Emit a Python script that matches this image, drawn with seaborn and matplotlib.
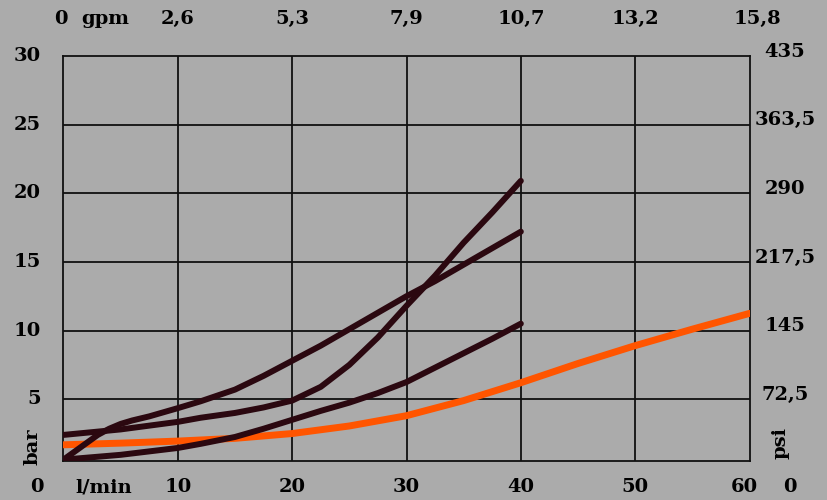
import matplotlib
matplotlib.use("Agg")
import matplotlib.pyplot as plt
import seaborn as sns
import pandas as pd
from matplotlib.transforms import blended_transform_factory as btf

# ---- data ----
flow_a = [0, 2, 3, 4, 5, 6, 7.5, 10, 12, 15, 17.5, 20, 22.5, 25, 27.5, 30, 32.5, 35, 37.5, 40]
pres_a = [0.6, 1.8, 2.4, 2.85, 3.2, 3.45, 3.75, 4.35, 4.85, 5.7, 6.7, 7.8, 8.9, 10.1, 11.3, 12.5, 13.6, 14.8, 16.0, 17.2]

flow_b = [0, 5, 10, 12, 15, 17.5, 20, 22.5, 25, 27.5, 30, 32.5, 35, 37.5, 40]
pres_b = [2.4, 2.8, 3.35, 3.65, 4.0, 4.4, 4.9, 5.9, 7.5, 9.5, 11.8, 14.0, 16.4, 18.6, 20.9]

flow_c = [0, 5, 10, 12, 15, 17.5, 20, 22.5, 25, 27.5, 30, 32.5, 35, 37.5, 40]
pres_c = [0.6, 0.95, 1.45, 1.75, 2.25, 2.85, 3.5, 4.15, 4.75, 5.45, 6.25, 7.3, 8.35, 9.4, 10.5]

flow_d = [0, 5, 10, 15, 20, 25, 30, 35, 40, 45, 50, 55, 60]
pres_d = [1.68, 1.8, 1.95, 2.15, 2.5, 3.05, 3.8, 4.9, 6.2, 7.6, 8.9, 10.1, 11.25]

x_ticks = [10, 20, 30, 40, 50, 60]
x_labels = ["10", "20", "30", "40", "50", "60"]
gpm_pos = [0, 10, 20, 30, 40, 50, 60]
gpm_labels = ["0", "2,6", "5,3", "7,9", "10,7", "13,2", "15,8"]
y_ticks = [5, 10, 15, 20, 25, 30]
y_labels = ["5", "10", "15", "20", "25", "30"]
psi_labels = ["72,5", "145", "217,5", "290", "363,5", "435"]

BG = "#ababab"
DARK = "#2b0810"
ORANGE = "#ff5500"
W, H = 827, 500

sns.set_style("white")
font = dict(family="DejaVu Serif", weight="bold", size=14, color="black")

fig = plt.figure(figsize=(W / 100, H / 100), dpi=100)
fig.patch.set_facecolor(BG)
left, right, top, bottom = 63.5, 749.5, 55.9, 461
ax = fig.add_axes([left / W, 1 - bottom / H, (right - left) / W, (bottom - top) / H])
ax.set_facecolor(BG)

df_d = pd.DataFrame({"flow": flow_d, "p": pres_d})
df_a = pd.DataFrame({"flow": flow_a, "p": pres_a})
df_b = pd.DataFrame({"flow": flow_b, "p": pres_b})
df_c = pd.DataFrame({"flow": flow_c, "p": pres_c})

sns.lineplot(data=df_d, x="flow", y="p", ax=ax, color=ORANGE, lw=5, sort=False,
             zorder=3, solid_joinstyle="round")
for d in (df_a, df_b, df_c):
    sns.lineplot(data=d, x="flow", y="p", ax=ax, color=DARK, lw=4.3, sort=False,
                 zorder=4, solid_joinstyle="round")

ax.set_xlim(0, 60)
ax.set_ylim(0.5, 30)
ax.set_xticks(x_ticks[:-1])
ax.set_yticks(y_ticks[:-1])
ax.grid(True, color="#111111", lw=1.3)
ax.tick_params(length=0, labelleft=False, labelbottom=False)
ax.set_xlabel("")
ax.set_ylabel("")
for s in ax.spines.values():
    s.set_color("#111111")
    s.set_linewidth(1.3)
    s.set_visible(True)

tr_y = btf(fig.transFigure, ax.transData)
tr_x = btf(ax.transData, fig.transFigure)

for v, lab in zip(y_ticks, y_labels):
    fig.text(41 / W, v, lab, transform=tr_y, ha="right", va="center", **font)
for v, lab in zip(y_ticks, psi_labels):
    fig.text(785 / W, v + 0.3, lab, transform=tr_y, ha="center", va="center", **font)
for v, lab in zip(x_ticks, x_labels):
    off = -0.45 if v == 60 else 0
    fig.text(v + off, 1 - 487 / H, lab, transform=tr_x, ha="center", va="center", **font)
for v, lab in zip(gpm_pos, gpm_labels):
    off = {0: -0.2, 60: 0.7}.get(v, 0)
    fig.text(v + off, 1 - 19 / H, lab, transform=tr_x, ha="center", va="center", **font)

fig.text(105 / W, 1 - 19 / H, "gpm", ha="center", va="center", **font)
fig.text(104 / W, 1 - 487 / H, "l/min", ha="center", va="center", **font)
fig.text(37 / W, 1 - 487 / H, "0", ha="center", va="center", **font)
fig.text(790 / W, 1 - 487 / H, "0", ha="center", va="center", **font)
fig.text(33 / W, 1 - 447 / H, "bar", ha="center", va="center", rotation=90, **font)
fig.text(781 / W, 1 - 443 / H, "psi", ha="center", va="center", rotation=90, **font)

fig.savefig("out.png", dpi=100, facecolor=BG)
